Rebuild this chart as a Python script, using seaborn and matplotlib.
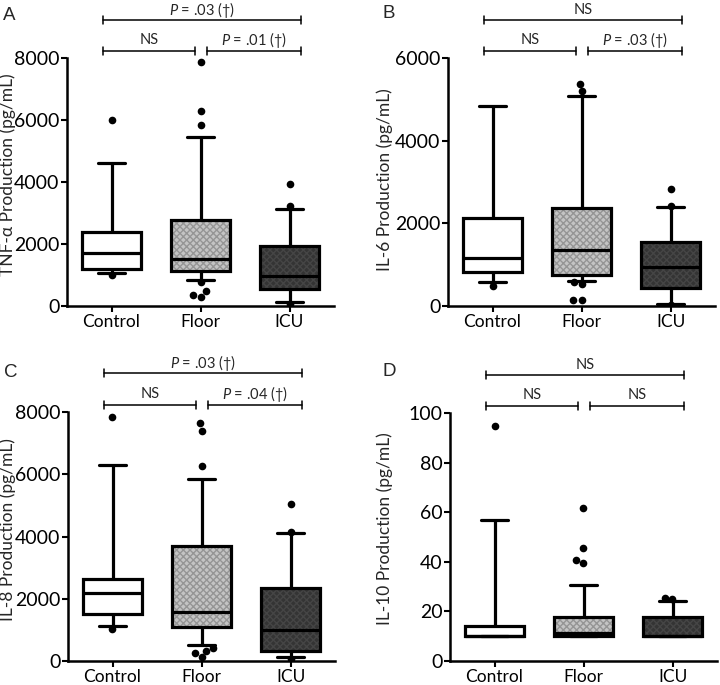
import numpy as np
import pandas as pd
import matplotlib
matplotlib.use("Agg")
import matplotlib.pyplot as plt
import matplotlib.transforms as mtransforms
import seaborn as sns

groups = ["Control", "Floor", "ICU"]

# five-number summaries: whisker low, Q1, median, Q3, whisker high
tnf_ctrl = [1050, 1180, 1700, 2400, 4600]
tnf_floor = [840, 1140, 1500, 2770, 5440]
tnf_icu = [120, 540, 980, 1940, 3120]
tnf_out_ctrl = [6000, 1000]
tnf_out_floor = [7880, 6300, 5850, 760, 490, 350, 300]
tnf_out_icu = [3940, 3220, 50]

il6_ctrl = [570, 820, 1150, 2120, 4840]
il6_floor = [610, 740, 1365, 2360, 5080]
il6_icu = [40, 430, 940, 1540, 2390]
il6_out_ctrl = [480]
il6_out_floor = [5370, 5190, 590, 540, 150, 140]
il6_out_icu = [2820, 2430, 20]

il8_ctrl = [1130, 1500, 2175, 2630, 6300]
il8_floor = [510, 1080, 1585, 3695, 5840]
il8_icu = [135, 310, 990, 2360, 4120]
il8_out_ctrl = [7830, 1030]
il8_out_floor = [7640, 7400, 6270, 420, 320, 250, 120]
il8_out_icu = [5040, 4150, 70]

il10_ctrl = [10, 10, 10, 14.2, 57]
il10_floor = [10, 10, 11.2, 17.9, 30.6]
il10_icu = [10, 10, 10, 17.9, 24.3]
il10_out_ctrl = [94.8]
il10_out_floor = [61.7, 45.6, 40.6, 39.7]
il10_out_icu = [25.4, 24.8]

ylabels = ["TNF-\u03b1 Production (pg/mL)", "IL-6 Production (pg/mL)",
           "IL-8 Production (pg/mL)", "IL-10 Production (pg/mL)"]
yticks_list = [[0, 2000, 4000, 6000, 8000], [0, 2000, 4000, 6000],
               [0, 2000, 4000, 6000, 8000], [0, 20, 40, 60, 80, 100]]
letters = ["A", "B", "C", "D"]
# comparison labels: (Control vs Floor, Floor vs ICU, Control vs ICU)
comparisons = [["NS", "$\\mathit{P}$ = .01 (\u2020)", "$\\mathit{P}$ = .03 (\u2020)"],
               ["NS", "$\\mathit{P}$ = .03 (\u2020)", "NS"],
               ["NS", "$\\mathit{P}$ = .04 (\u2020)", "$\\mathit{P}$ = .03 (\u2020)"],
               ["NS", "NS", "NS"]]

sns.set_style("ticks")
plt.rcParams["font.family"] = ["Lato", "DejaVu Sans"]
plt.rcParams["mathtext.fontset"] = "custom"
plt.rcParams["mathtext.it"] = "Lato:italic"
plt.rcParams["mathtext.rm"] = "Lato"
plt.rcParams["hatch.linewidth"] = 1.0

fills = {"Control": "#ffffff", "Floor": "#c4c4c4", "ICU": "#343434"}
hatches = {"Control": None, "Floor": "xxxxx", "ICU": "xxxxx"}
hatch_cols = {"Floor": "#959595", "ICU": "#454545"}

W, H = 720, 685
fig = plt.figure(figsize=(7.2, 6.85), dpi=100)

# axes rectangles in pixels: left, top, width, height
rects = [(67, 58, 267, 248), (448, 58, 267, 248), (68, 412, 267, 249), (450, 413, 267, 248)]
letter_pos = [(3, 20), (382, 18), (4, 377), (383, 376)]
label_x = [-0.19, -0.205, -0.195, -0.215]
label_y = [0.528, 0.51, 0.526, 0.532]

panels = [
    ([tnf_ctrl, tnf_floor, tnf_icu], [tnf_out_ctrl, tnf_out_floor, tnf_out_icu]),
    ([il6_ctrl, il6_floor, il6_icu], [il6_out_ctrl, il6_out_floor, il6_out_icu]),
    ([il8_ctrl, il8_floor, il8_icu], [il8_out_ctrl, il8_out_floor, il8_out_icu]),
    ([il10_ctrl, il10_floor, il10_icu], [il10_out_ctrl, il10_out_floor, il10_out_icu]),
]

for i, (stats, outs) in enumerate(panels):
    l, t, w, h = rects[i]
    ax = fig.add_axes([l / W, 1 - (t + h) / H, w / W, h / H])
    df = pd.DataFrame({"group": np.repeat(groups, [len(s) for s in stats]),
                       "value": np.concatenate(stats)})
    sns.boxplot(data=df, x="group", y="value", order=groups, hue="group",
                hue_order=groups, palette=fills, legend=False, whis=(0, 100),
                width=0.67, linewidth=2.3, linecolor="black", fliersize=0,
                capwidths=0.3, ax=ax)
    for patch, g in zip(ax.patches, groups):
        if hatches[g]:
            patch.set_hatch(hatches[g])
            hc = hatch_cols[g]
            if hasattr(patch, "set_hatchcolor"):
                patch.set_hatchcolor(hc)
            else:
                patch._hatch_color = matplotlib.colors.to_rgba(hc)
    odf = pd.DataFrame({"group": np.repeat(groups, [len(o) for o in outs]),
                        "value": np.concatenate(outs)})
    sns.swarmplot(data=odf, x="group", y="value", order=groups, color="black",
                  size=5.5, linewidth=0, ax=ax)
    yt = yticks_list[i]
    ax.set_ylim(0, yt[-1])
    ax.set_xlim(-0.5, 2.5)
    ax.set_yticks(yt)
    ax.set_yticklabels([str(v) for v in yt])
    ax.set_xlabel("")
    ax.set_ylabel(ylabels[i], fontsize=12.5)
    ax.yaxis.set_label_coords(label_x[i], label_y[i])
    ax.tick_params(axis="both", length=4, width=1.5, pad=1.5, colors="black")
    ax.tick_params(axis="y", labelsize=14)
    ax.tick_params(axis="x", labelsize=12.5, pad=2)
    for s in ["left", "bottom"]:
        ax.spines[s].set_linewidth(1.8)
        ax.spines[s].set_color("black")
    sns.despine(ax=ax)

    trans = mtransforms.blended_transform_factory(ax.transData, ax.transAxes)
    spans = [(-0.1, 0.94), (1.07, 2.13), (-0.1, 2.13)]
    ylev = [1.03, 1.03, 1.155]
    ytxt = [1.072, 1.072, 1.195]
    for (x0, x1), yl, yt_, lab in zip(spans, ylev, ytxt, comparisons[i]):
        ax.plot([x0, x1], [yl, yl], color="black", lw=1.1, transform=trans, clip_on=False)
        for xe in (x0, x1):
            ax.plot([xe, xe], [yl - 0.016, yl + 0.016], color="black", lw=1.1,
                    transform=trans, clip_on=False)
        ax.text((x0 + x1) / 2, yt_, lab, transform=trans, ha="center", va="center",
                fontsize=10.5)

    lx, ly = letter_pos[i]
    fig.text(lx / W, 1 - ly / H, letters[i], fontsize=13.5,
             family="Liberation Sans", va="baseline", ha="left")

fig.savefig("out.png", dpi=100)
